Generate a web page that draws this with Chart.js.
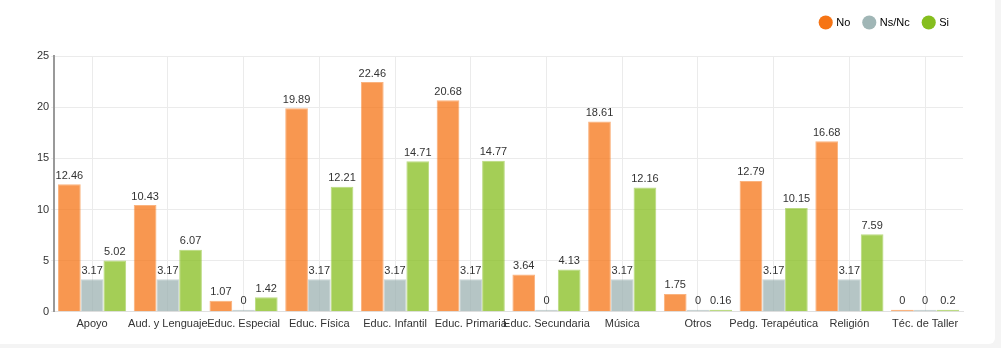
<!DOCTYPE html>
<html>
<head>
<meta charset="utf-8">
<script src="https://cdn.jsdelivr.net/npm/chart.js@4"></script>
<style>
    html, body { margin: 0; padding: 0; background: #f4f4f4; }
    .card { position: absolute; left: 0; top: 0; width: 995px; height: 344px; background: #fff; border-radius: 0 0 6px 0; }
</style>
</head>
<body>
<div class="card"><canvas id="especialidadChart" width="995" height="344"></canvas></div>
<script>
// Categories and series
const categorias = ['Apoyo', 'Aud. y Lenguaje', 'Educ. Especial', 'Educ. Física', 'Educ. Infantil', 'Educ. Primaria',
    'Educ. Secundaria', 'Música', 'Otros', 'Pedg. Terapéutica', 'Religión', 'Téc. de Taller'];
const valoresNo   = [12.46, 10.43, 1.07, 19.89, 22.46, 20.68, 3.64, 18.61, 1.75, 12.79, 16.68, 0];
const valoresNsNc = [3.17, 3.17, 0, 3.17, 3.17, 3.17, 0, 3.17, 0, 3.17, 3.17, 0];
const valoresSi   = [5.02, 6.07, 1.42, 12.21, 14.71, 14.77, 4.13, 12.16, 0.16, 10.15, 7.59, 0.2];
const yTicks = [0, 5, 10, 15, 20, 25];

// draws the value above each bar
const valueLabels = {
    id: 'valueLabels',
    afterDatasetsDraw(chart) {
        const ctx = chart.ctx;
        ctx.save();
        ctx.font = '11px "Liberation Sans", Arial, sans-serif';
        ctx.fillStyle = '#333';
        ctx.textAlign = 'center';
        ctx.textBaseline = 'bottom';
        chart.data.datasets.forEach((ds, i) => {
            chart.getDatasetMeta(i).data.forEach((bar, j) => {
                const top = Math.min(bar.y, bar.base - 2);
                ctx.fillText(ds.data[j], bar.x, top - 3);
            });
        });
        ctx.restore();
    }
};

// extra room under the legend
const legendGap = {
    id: 'legendGap',
    beforeInit(chart) {
        const fit = chart.legend.fit;
        chart.legend.fit = function() {
            fit.bind(chart.legend)();
            this.height += 18;
        };
    }
};

new Chart(document.getElementById('especialidadChart'), {
    type: 'bar',
    data: {
        labels: categorias,
        datasets: [{
            label: 'No',
            data: valoresNo,
            backgroundColor: 'rgba(246, 116, 21, 0.75)',
            borderColor: 'rgba(246, 116, 21, 0.55)',
            borderWidth: 1
        }, {
            label: 'Ns/Nc',
            data: valoresNsNc,
            backgroundColor: 'rgba(152, 174, 174, 0.72)',
            borderColor: 'rgba(152, 174, 174, 0.5)',
            borderWidth: 1
        }, {
            label: 'Si',
            data: valoresSi,
            backgroundColor: 'rgba(133, 190, 30, 0.75)',
            borderColor: 'rgba(133, 190, 30, 0.55)',
            borderWidth: 1
        }]
    },
    options: {
        responsive: false,
        animation: false,
        minBarLength: 2,
        categoryPercentage: 0.9,
        barPercentage: 1.0,
        layout: {
            padding: { left: 35, right: 32, top: 3, bottom: 7 }
        },
        plugins: {
            legend: {
                position: 'top',
                align: 'end',
                labels: {
                    usePointStyle: true,
                    pointStyle: 'circle',
                    boxWidth: 10,
                    boxHeight: 10,
                    padding: 14,
                    color: '#333',
                    font: { family: '"Liberation Sans", Arial, sans-serif', size: 11 },
                    generateLabels(chart) {
                        const solid = ['rgb(246, 116, 21)', 'rgb(160, 182, 182)', 'rgb(133, 190, 30)'];
                        return chart.data.datasets.map((ds, i) => ({
                            text: ds.label,
                            fillStyle: solid[i],
                            strokeStyle: solid[i],
                            lineWidth: 0,
                            pointStyle: 'circle',
                            datasetIndex: i
                        }));
                    }
                }
            },
            tooltip: { enabled: false }
        },
        scales: {
            x: {
                grid: { offset: false, color: '#ebebeb', drawTicks: false },
                border: { color: '#e0e0e0' },
                ticks: {
                    color: '#333',
                    padding: 6,
                    maxRotation: 0,
                    autoSkip: false,
                    font: { family: '"Liberation Sans", Arial, sans-serif', size: 11 }
                }
            },
            y: {
                min: 0,
                max: 25,
                afterBuildTicks(axis) {
                    axis.ticks = yTicks.map(v => ({ value: v }));
                },
                grid: { color: '#ebebeb', tickLength: 3 },
                border: { color: '#999', width: 2 },
                ticks: {
                    color: '#333',
                    padding: 2,
                    font: { family: '"Liberation Sans", Arial, sans-serif', size: 11 }
                }
            }
        }
    },
    plugins: [valueLabels, legendGap]
});
</script>
</body>
</html>
